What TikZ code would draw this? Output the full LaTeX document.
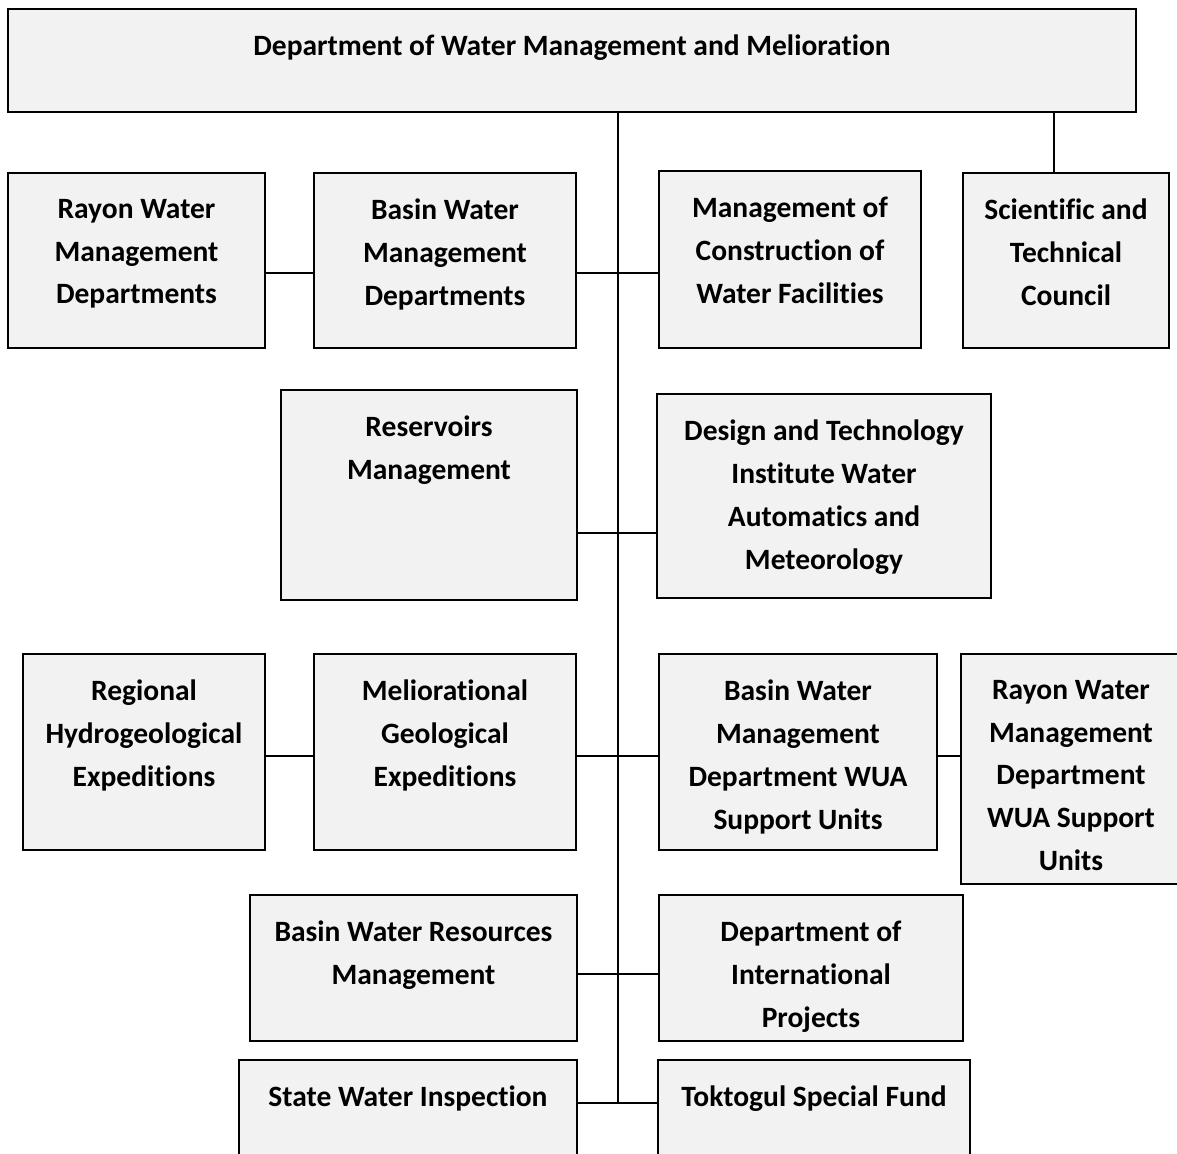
\documentclass[tikz,border=0pt]{standalone}
\usepackage{fontspec}
\setmainfont{Carlito}[Ligatures=NoCommon]
\usepackage{tikz}
\definecolor{boxfill}{HTML}{F2F2F2}

\begin{document}
\begin{tikzpicture}[
            x=1pt, y=-1pt,
            unit/.style={draw, fill=boxfill, line width=2.8pt, inner sep=0pt, outer sep=0pt, anchor=north west},
            caption/.style={anchor=north, yshift=-26pt, inner sep=0pt, align=center, font=\bfseries\fontsize{29.5}{42.7}\selectfont},
            link/.style={line width=2.3pt},
            ]
            \useasboundingbox (0,0) rectangle (1177,1153);

            \node[unit, minimum width=1128, minimum height=103, label={[caption]north:{Department of Water Management and Melioration}}] (top) at (8,9) {};

            \node[unit, minimum width=257, minimum height=175, label={[caption]north:{Rayon Water\\Management\\Departments}}] (rayonwmd) at (8,173) {};
            \node[unit, minimum width=262, minimum height=175, label={[caption]north:{Basin Water\\Management\\Departments}}] (basinwmd) at (314,173) {};
            \node[unit, minimum width=262, minimum height=177, label={[caption]north:{Management of\\Construction of\\Water Facilities}}] (constr) at (659,171) {};
            \node[unit, minimum width=206, minimum height=175, label={[caption]north:{Scientific and\\Technical\\Council}}] (scitech) at (963,173) {};

            \node[unit, minimum width=296, minimum height=210, label={[caption]north:{Reservoirs\\Management}}] (reservoirs) at (281,390) {};
            \node[unit, minimum width=334, minimum height=204, label={[caption]north:{Design and Technology\\Institute Water\\Automatics and\\Meteorology}}] (designinst) at (657,394) {};

            \node[unit, minimum width=242, minimum height=196, label={[caption]north:{Regional\\Hydrogeological\\Expeditions}}] (regional) at (23,654) {};
            \node[unit, minimum width=262, minimum height=196, label={[caption]north:{Meliorational\\Geological\\Expeditions}}] (meliorational) at (314,654) {};
            \node[unit, minimum width=278, minimum height=196, label={[caption]north:{Basin Water\\Management\\Department WUA\\Support Units}}] (basinwua) at (659,654) {};
            \node[unit, minimum width=220, minimum height=230, label={[caption]north:{Rayon Water\\Management\\Department\\WUA Support\\Units}}] (rayonwua) at (961,654) {};

            \node[unit, minimum width=327, minimum height=146, label={[caption]north:{Basin Water Resources\\Management}}] (basinres) at (250,895) {};
            \node[unit, minimum width=304, minimum height=146, label={[caption]north:{Department of\\International\\Projects}}] (intproj) at (659,895) {};

            \node[unit, minimum width=338, minimum height=140, label={[caption]north:{State Water Inspection}}] (inspection) at (239,1060) {};
            \node[unit, minimum width=312, minimum height=140, label={[caption]north:{Toktogul Special Fund}}] (toktogul) at (658,1060) {};

            % points on the main line
            \coordinate (r1) at (618,273);
            \coordinate (r2) at (618,533);
            \coordinate (r3) at (618,756);
            \coordinate (r4) at (618,974);
            \coordinate (r5) at (618,1103);
            \coordinate (sci) at (1054,112);

            \draw[link] (top.south -| r1) -- (r5);
            \draw[link] (sci) -- (scitech.north -| sci);

            \draw[link] (rayonwmd.east |- r1) -- (basinwmd.west |- r1);
            \draw[link] (basinwmd.east |- r1) -- (constr.west |- r1);
            \draw[link] (reservoirs.east |- r2) -- (designinst.west |- r2);
            \draw[link] (regional.east |- r3) -- (meliorational.west |- r3);
            \draw[link] (meliorational.east |- r3) -- (basinwua.west |- r3);
            \draw[link] (basinwua.east |- r3) -- (rayonwua.west |- r3);
            \draw[link] (basinres.east |- r4) -- (intproj.west |- r4);
            \draw[link] (inspection.east |- r5) -- (toktogul.west |- r5);
        \end{tikzpicture}
\end{document}
